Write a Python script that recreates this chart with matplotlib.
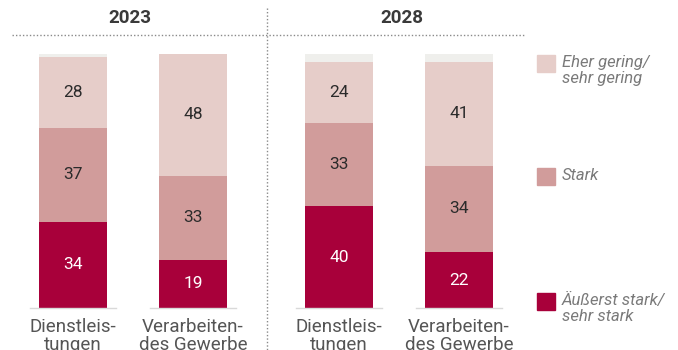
import matplotlib.pyplot as plt
from matplotlib.lines import Line2D
from matplotlib.patches import Rectangle

plt.rcParams['font.family'] = ['Roboto', 'DejaVu Sans']

# data
years = ["2023", "2023", "2028", "2028"]
sectors = ["Dienstleis-\ntungen", "Verarbeiten-\ndes Gewerbe",
           "Dienstleis-\ntungen", "Verarbeiten-\ndes Gewerbe"]
sehr_stark = [34, 19, 40, 22]
stark = [37, 33, 33, 34]
gering = [28, 48, 24, 41]
rest = [100 - a - b - c for a, b, c in zip(sehr_stark, stark, gering)]

legend_labels = ["Eher gering/\nsehr gering", "Stark", "Äußerst stark/\nsehr stark"]

c_dark = "#A8003A"
c_mid = "#D19C9B"
c_light = "#E6CDC9"
c_rest = "#EFEFEC"

W, H = 678, 350
fig = plt.figure(figsize=(W / 100, H / 100), dpi=100)

# axes in pixel-x, percent-y
y0, y1 = 308, 54
ax = fig.add_axes([0, (H - y0) / H, 1, (y0 - y1) / H])
ax.set_xlim(0, W)
ax.set_ylim(0, 100)
ax.axis("off")

xs = [73, 193, 339, 459]
bw = 68

b1 = ax.bar(xs, sehr_stark, bw, color=c_dark)
b2 = ax.bar(xs, stark, bw, bottom=sehr_stark, color=c_mid)
bot3 = [a + b for a, b in zip(sehr_stark, stark)]
b3 = ax.bar(xs, gering, bw, bottom=bot3, color=c_light)
bot4 = [a + b for a, b in zip(bot3, gering)]
ax.bar(xs, rest, bw, bottom=bot4, color=c_rest)

for bars, col in [(b1, "white"), (b2, "#2b2b2b"), (b3, "#2b2b2b")]:
    ax.bar_label(bars, label_type="center", color=col, fontsize=12.5)

# baselines under each bar
for x in xs:
    ax.plot([x - bw / 2 - 9, x + bw / 2 + 9], [0, 0], color="#d9d9d9",
            lw=1, clip_on=False)

# category labels (second line runs to the lower edge)
for x, s in zip(xs, sectors):
    ax.text(x, -3.9, s, ha="center", va="top", fontsize=13.5,
            color="#555555", linespacing=0.98, clip_on=False)

# year headers and dotted separators
fig.text(130 / W, 1 - 18 / H, "2023", ha="center", va="center",
         fontsize=13.5, fontweight="bold", color="#3a3a3a")
fig.text(402 / W, 1 - 18 / H, "2028", ha="center", va="center",
         fontsize=13.5, fontweight="bold", color="#3a3a3a")
fig.add_artist(Line2D([12 / W, 525 / W], [1 - 35 / H, 1 - 35 / H],
                      color="#8a8a8a", lw=1, ls=(0, (1, 1.5))))
fig.add_artist(Line2D([267 / W, 267 / W], [1 - 8 / H, 0],
                      color="#8a8a8a", lw=1, ls=(0, (1, 1.5))))

# legend
leg_items = [(c_light, 55, 62), (c_mid, 168, 176), (c_dark, 293, 300)]
for (col, ytop, ytxt), lab in zip(leg_items, legend_labels):
    fig.add_artist(Rectangle((537 / W, 1 - (ytop + 17) / H), 18 / W, 17 / H,
                             color=col, transform=fig.transFigure))
    fig.text(562 / W, 1 - (ytxt - 7.5) / H, lab, ha="left", va="top",
             fontsize=12, style="italic", color="#7a7a7a", linespacing=1.1)

fig.savefig("out.png", dpi=100)
